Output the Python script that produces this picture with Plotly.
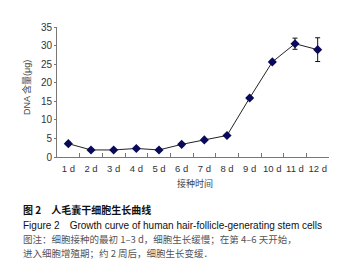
import plotly.graph_objects as go

days = ["1 d", "2 d", "3 d", "4 d", "5 d", "6 d", "7 d", "8 d", "9 d", "10 d", "11 d", "12 d"]
dna = [3.6, 1.9, 1.9, 2.3, 1.9, 3.4, 4.6, 5.8, 15.9, 25.6, 30.5, 28.9]
err = [0.4, 0.3, 0.3, 0.3, 0.3, 0.4, 0.3, 0.3, 0.4, 0.4, 1.5, 3.2]
y_ticks = [0, 5, 10, 15, 20, 25, 30, 35]

W, H = 347, 273
L, R, T, B = 49, 26, 19, 124
ph = H - T - B


def py(pix):
    return (H - B - pix) / ph


def px(pix):
    return (pix - L) / (W - L - R)


fig = go.Figure()
fig.add_trace(go.Scatter(
    x=days, y=dna, mode="lines+markers",
    line=dict(color="#222222", width=1),
    marker=dict(symbol="diamond", size=7, color="#0a0a5a"),
    error_y=dict(type="data", array=err, color="#111111", thickness=1, width=2.5),
    showlegend=False,
))

fig.update_layout(
    width=W, height=H, margin=dict(l=L, r=R, t=T, b=B),
    paper_bgcolor="white", plot_bgcolor="white",
    font=dict(family="Arial, Liberation Sans, sans-serif", size=10, color="#333333"),
    xaxis=dict(type="category", range=[-0.5, 11.5], showline=True, linecolor="#777777", linewidth=1,
               ticks="inside", tickson="boundaries", ticklen=4, tickcolor="#777777", tickangle=0,
               ticklabelstandoff=3,
               showgrid=False, zeroline=False, tickfont=dict(size=9.5, color="#333333")),
    yaxis=dict(range=[0, 35], tickvals=y_ticks, showline=True, linecolor="#777777", linewidth=1,
               ticks="outside", ticklen=2, tickcolor="#777777", showgrid=False, zeroline=False,
               tickfont=dict(size=10, color="#333333")),
)

ann = [
    dict(text="DNA 含量(μg)", x=px(18), y=py(80), textangle=-90, size=9, color="#444444",
         family="Arial, Noto Sans CJK SC", xanchor="center"),
    dict(text="接种时间", x=px(187), y=py(175), size=9, color="#444444",
         family="Noto Sans CJK SC", xanchor="center"),
    dict(text="<b>图 2　人毛囊干细胞生长曲线</b>", x=px(13), y=py(202), size=10, color="#111111",
         family="Noto Sans CJK SC", xanchor="left"),
    dict(text="Figure 2　Growth curve of human hair-follicle-generating stem cells", x=px(13), y=py(217),
         size=10, color="#111111", family="Arial, Liberation Sans", xanchor="left"),
    dict(text="图注：细胞接种的最初 1–3 d，细胞生长缓慢；在第 4–6 天开始，", x=px(13), y=py(231),
         size=9.5, color="#555555", family="Noto Sans CJK SC", xanchor="left"),
    dict(text="进入细胞增殖期；约 2 周后，细胞生长变缓．", x=px(13), y=py(245),
         size=9.5, color="#555555", family="Noto Sans CJK SC", xanchor="left"),
]
for a in ann:
    fig.add_annotation(text=a["text"], x=a["x"], y=a["y"], xref="paper", yref="paper",
                       xanchor=a["xanchor"], yanchor="middle", showarrow=False, align="left",
                       textangle=a.get("textangle", 0),
                       font=dict(size=a["size"], color=a["color"], family=a["family"]))

fig.write_html("out.html")
